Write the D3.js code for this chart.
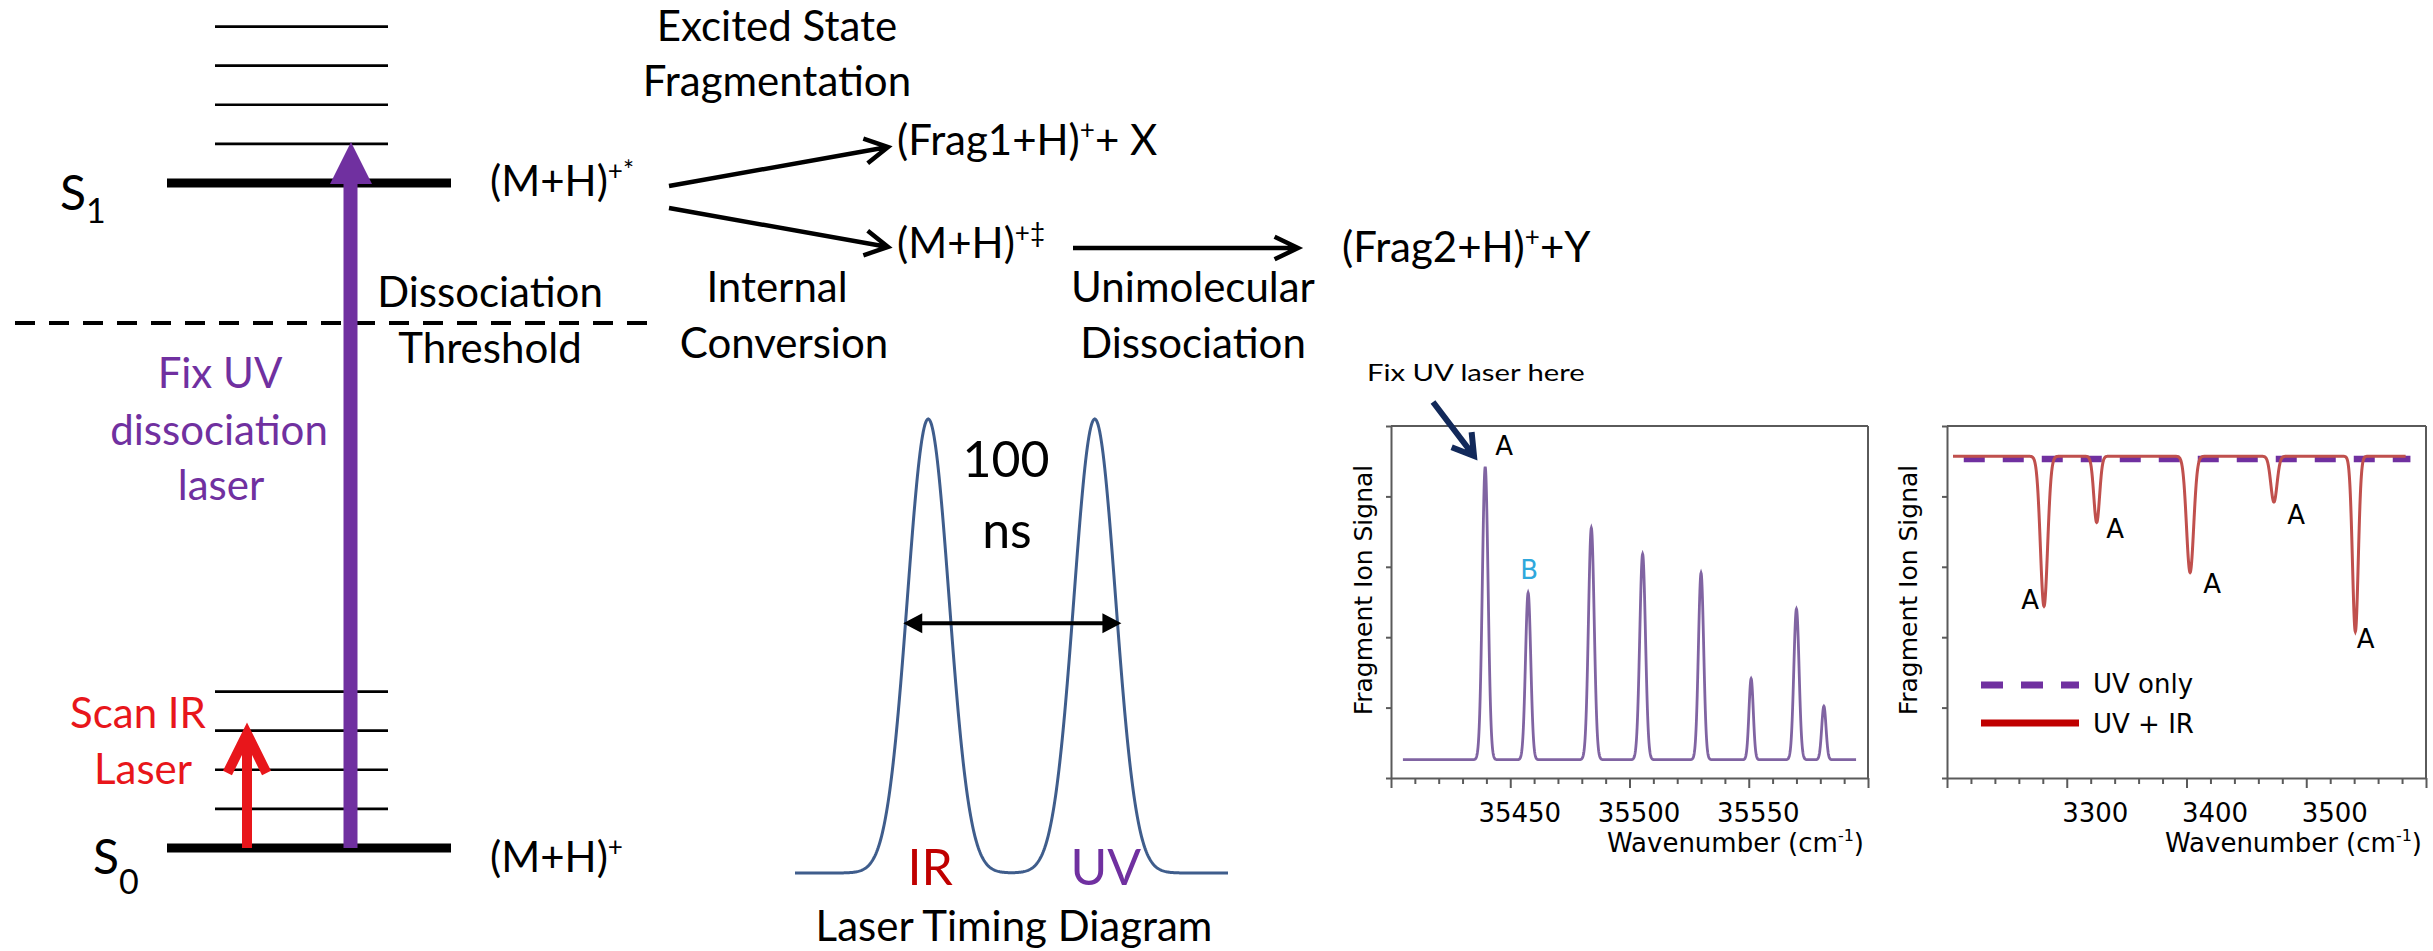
<!DOCTYPE html>
<html lang="en">
<head>
  <meta charset="UTF-8">
  <title>UV-UV / IR-UV double resonance scheme</title>
  <script src="https://d3js.org/d3.v7.min.js"></script>
  <style>
    body {
      margin: 0;
      background-color: #ffffff;
    }
    text {
      white-space: pre;
    }
  </style>
</head>
<body>

<div id="figure"></div>

<script>
  const width = 2433;
  const height = 951;

  const MAIN_FONT = "Lato, 'Open Sans', sans-serif";
  const PLOT_FONT = "'DejaVu Sans', Verdana, sans-serif";

  // ---- energy level diagram (energies in units of one vibrational quantum)
  const groundState = 0;
  const excitedState = 17;
  const thresholdEnergy = 13.42;
  const groundVibLevels = [1, 2, 3, 4];
  const excitedVibLevels = [18, 19, 20, 21];
  const irTargetLevel = 3;
  const uvTargetLevel = 18;

  // ---- laser timing (ns)
  const pulseNames = ["IR", "UV"];
  const pulseTimes = [0, 100];
  const pulseSigma = 12.5;
  const timeRange = [-80, 180];

  // ---- UV spectrum (cm-1, signal)
  const uvPeakPos = [35439.5, 35457.5, 35484, 35505.5, 35530, 35551, 35570, 35581.5];
  const uvPeakTop = [4.42, 2.63, 3.55, 3.18, 2.91, 1.41, 2.40, 1.02];
  const uvPeakWidth = [1.2, 1.1, 1.2, 1.2, 1.1, 0.9, 1.1, 0.9];
  const uvBaseline = 0.26;
  const uvRange = [35405, 35595];
  const uvTicks = [35450, 35500, 35550];

  // ---- IR-UV spectrum (cm-1, signal)
  const irDipPos = [3281, 3325, 3403, 3473, 3541];
  const irDipBottom = [2.44, 3.63, 2.92, 3.92, 2.08];
  const irDipWidth = [3.0, 2.4, 3.0, 2.6, 2.4];
  const irBaseline = 4.57;
  const irRange = [3205, 3583];
  const uvOnlyLevel = 4.53;
  const uvOnlyRange = [3214, 3587];
  const irTicks = [3300, 3400, 3500];
  const irLabelX = [3269.5, 3340.5, 3421.5, 3491.5, 3549.5];
  const irLabelY = [2.40, 3.41, 2.63, 3.61, 1.84];

  const svg = d3.select("#figure")
    .append("svg")
    .attr("width", width)
    .attr("height", height);

  svg.append("rect").attr("width", width).attr("height", height).attr("fill", "#fff");

  // text with optional sub/superscript pieces
  function addText(x, y, parts, o) {
    const t = svg.append("text")
      .attr("x", x).attr("y", y)
      .attr("font-family", o.font || MAIN_FONT)
      .attr("font-size", o.size)
      .attr("fill", o.color || "#000")
      .attr("text-anchor", o.anchor || "start");
    if (o.sx) t.attr("transform", `translate(${x},${y}) scale(${o.sx},1) translate(${-x},${-y})`);
    if (o.rotate) t.attr("transform", `rotate(${o.rotate},${x},${y})`);
    let shift = 0;
    parts.forEach(p => {
      const part = typeof p === "string" ? { t: p } : p;
      const off = part.dy || 0;
      t.append("tspan")
        .attr("dy", off - shift)
        .attr("font-size", part.size || o.size)
        .text(part.t);
      shift = off;
    });
    return t;
  }

  function openArrow(x1, y1, x2, y2, o) {
    const ang = Math.atan2(y2 - y1, x2 - x1);
    const len = o.head || 24, spread = o.spread || 0.5;
    const a1 = [x2 - len * Math.cos(ang - spread), y2 - len * Math.sin(ang - spread)];
    const a2 = [x2 - len * Math.cos(ang + spread), y2 - len * Math.sin(ang + spread)];
    svg.append("path")
      .attr("d", `M${x1},${y1}L${x2},${y2}M${a1}L${x2},${y2}L${a2}`)
      .attr("fill", "none")
      .attr("stroke", o.color || "#000")
      .attr("stroke-width", o.width || 4.5)
      .attr("stroke-linejoin", "miter")
      .attr("stroke-linecap", "butt");
  }

  // ================= energy diagram =================
  const E = d3.scaleLinear().domain([groundState, excitedState]).range([848, 183]);

  svg.selectAll(".vib")
    .data(groundVibLevels.concat(excitedVibLevels))
    .enter().append("line")
    .attr("x1", 215).attr("x2", 388)
    .attr("y1", d => E(d)).attr("y2", d => E(d))
    .attr("stroke", "#000").attr("stroke-width", 2.7);

  svg.selectAll(".state")
    .data([groundState, excitedState])
    .enter().append("line")
    .attr("x1", 167).attr("x2", 451)
    .attr("y1", d => E(d)).attr("y2", d => E(d))
    .attr("stroke", "#000").attr("stroke-width", 9);

  svg.append("line")
    .attr("x1", 15).attr("x2", 647)
    .attr("y1", E(thresholdEnergy)).attr("y2", E(thresholdEnergy))
    .attr("stroke", "#000").attr("stroke-width", 4)
    .attr("stroke-dasharray", "20,14");

  // UV pump arrow
  svg.append("line")
    .attr("x1", 350.5).attr("x2", 350.5)
    .attr("y1", E(groundState)).attr("y2", E(excitedState))
    .attr("stroke", "#7030A0").attr("stroke-width", 14);
  svg.append("path")
    .attr("d", `M330,${E(excitedState) + 1}L372,${E(excitedState) + 1}L351,${E(uvTargetLevel) - 2}Z`)
    .attr("fill", "#7030A0");

  // IR arrow
  openArrow(247, E(groundState), 247, E(irTargetLevel) + 3,
    { color: "#E8161B", width: 10, head: 44, spread: 0.46 });

  addText(60, 210, ["S", { t: "1", size: 34, dy: 13 }], { size: 48 });
  addText(93, 874, ["S", { t: "0", size: 34, dy: 20 }], { size: 48 });

  addText(490, 196, ["(M+H)", { t: "+*", size: 26, dy: -16 }], { size: 42 });
  addText(490, 872, ["(M+H)", { t: "+", size: 26, dy: -16 }], { size: 42 });

  addText(490, 307, ["Dissociation"], { size: 42, anchor: "middle" });
  addText(490, 363, ["Threshold"], { size: 42, anchor: "middle" });

  addText(220, 388, ["Fix UV"], { size: 42, anchor: "middle", color: "#7030A0" });
  addText(219, 445, ["dissociation"], { size: 42, anchor: "middle", color: "#7030A0" });
  addText(221, 500, ["laser"], { size: 42, anchor: "middle", color: "#7030A0" });

  addText(138, 728, ["Scan IR"], { size: 42, anchor: "middle", color: "#E8161B" });
  addText(143, 784, ["Laser"], { size: 42, anchor: "middle", color: "#E8161B" });

  // ================= fragmentation scheme =================
  addText(777, 41, ["Excited State"], { size: 42, anchor: "middle" });
  addText(777, 96, ["Fragmentation"], { size: 42, anchor: "middle" });

  openArrow(669, 186, 888, 147, { head: 26, spread: 0.5 });
  openArrow(669, 208, 888, 247, { head: 26, spread: 0.5 });
  openArrow(1073, 248, 1298, 248, { head: 26, spread: 0.45 });

  addText(897, 155, ["(Frag1+H)", { t: "+", size: 26, dy: -16 }, "+ X"], { size: 42 });
  addText(897, 258, ["(M+H)", { t: "+\u2021", size: 26, dy: -16 }], { size: 42 });
  addText(1342, 262, ["(Frag2+H)", { t: "+", size: 26, dy: -16 }, "+Y"], { size: 42 });

  addText(777, 302, ["Internal"], { size: 42, anchor: "middle" });
  addText(784, 358, ["Conversion"], { size: 42, anchor: "middle" });
  addText(1193, 302, ["Unimolecular"], { size: 42, anchor: "middle" });
  addText(1193, 358, ["Dissociation"], { size: 42, anchor: "middle" });

  // ================= laser timing diagram =================
  const tX = d3.scaleLinear().domain(timeRange).range([795, 1228]);
  const tY = d3.scaleLinear().domain([0, 1]).range([873, 419]);

  const pulseTrace = d3.range(timeRange[0], timeRange[1] + 0.01, 0.5).map(t => [
    t,
    d3.sum(pulseTimes, c => Math.exp(-((t - c) ** 2) / (2 * pulseSigma ** 2)))
  ]);

  svg.append("path")
    .datum(pulseTrace)
    .attr("fill", "none")
    .attr("stroke", "#3f5d8c")
    .attr("stroke-width", 3)
    .attr("d", d3.line().x(d => tX(d[0])).y(d => tY(d[1])));

  // 100 ns double arrow
  const arrY = tY(0.55);
  svg.append("line")
    .attr("x1", tX(-15) + 6).attr("x2", tX(116) - 6)
    .attr("y1", arrY).attr("y2", arrY)
    .attr("stroke", "#000").attr("stroke-width", 4);
  svg.append("path")
    .attr("d", `M${tX(-15)},${arrY}l19,-10v20Z M${tX(116)},${arrY}l-19,-10v20Z`)
    .attr("fill", "#000");

  addText(1006, 477, ["100"], { size: 50, anchor: "middle" });
  addText(1007, 548, ["ns"], { size: 50, anchor: "middle" });

  const pulseColors = ["#C00000", "#7030A0"];
  pulseNames.forEach((n, i) => {
    addText(tX(pulseTimes[i]) + [2, 11][i], 885, [n], { size: 50, anchor: "middle", color: pulseColors[i] });
  });
  addText(1014, 941, ["Laser Timing Diagram"], { size: 42, anchor: "middle" });

  // ================= spectra =================
  function gaussTrace(range, step, base, pos, top, sig) {
    return d3.range(range[0], range[1] + step / 2, step).map(v => [
      v,
      base + d3.sum(pos, (p, i) => (top[i] - base) * Math.exp(-((v - p) ** 2) / (2 * sig[i] ** 2)))
    ]);
  }

  const plotY = d3.scaleLinear().domain([0, 5]).range([778, 426]);

  function frame(x, ticks, step, major, labelDx) {
    const g = svg.append("g");
    const [x0, x1] = x.range();
    g.append("line").attr("x1", x0).attr("x2", x1).attr("y1", 426).attr("y2", 426)
      .attr("stroke", "#5a5a5a").attr("stroke-width", 2);
    g.append("line").attr("x1", x1).attr("x2", x1).attr("y1", 426).attr("y2", 778)
      .attr("stroke", "#5a5a5a").attr("stroke-width", 2);

    const yAx = g.append("g").attr("transform", `translate(${x0},0)`)
      .call(d3.axisLeft(plotY).tickValues([0, 1, 2, 3, 4, 5]).tickSize(5).tickSizeOuter(0).tickFormat(""));

    const [d0, d1] = x.domain();
    const xAx = g.append("g").attr("transform", "translate(0,778)")
      .call(d3.axisBottom(x)
        .tickValues(d3.range(d0, d1 + step / 2, step))
        .tickSize(6).tickSizeOuter(0)
        .tickFormat(d => ticks.includes(d) ? d : ""));
    xAx.selectAll(".tick line").attr("y2", d => (d - d0) % major === 0 ? 10 : 6);
    xAx.selectAll("text")
      .attr("y", 44).attr("dy", 0).attr("dx", labelDx)
      .attr("font-family", PLOT_FONT).attr("font-size", 26).attr("fill", "#000");

    [yAx, xAx].forEach(a => {
      a.selectAll("path, line").attr("stroke", "#5a5a5a").attr("stroke-width", 2);
    });

    addText(x1 - 4, 852, ["Wavenumber (cm", { t: "-1", size: 16, dy: -11 }, ")"],
      { size: 26, anchor: "end", font: PLOT_FONT });
  }

  // ---- panel 1 : UV spectrum
  const x1 = d3.scaleLinear().domain([35400, 35600]).range([1391, 1868]);
  frame(x1, uvTicks, 10, 50, 9);
  addText(1372, 590, ["Fragment Ion Signal"], { size: 25, anchor: "middle", font: PLOT_FONT, rotate: -90 });

  svg.append("path")
    .datum(gaussTrace(uvRange, 0.1, uvBaseline, uvPeakPos, uvPeakTop, uvPeakWidth))
    .attr("fill", "none")
    .attr("stroke", "#8064A2")
    .attr("stroke-width", 2.8)
    .attr("d", d3.line().x(d => x1(d[0])).y(d => plotY(d[1])));

  addText(x1(35447.4), plotY(4.59), ["A"], { size: 26, anchor: "middle", font: PLOT_FONT });
  addText(x1(35457.9), plotY(2.83), ["B"], { size: 26, anchor: "middle", font: PLOT_FONT, color: "#2FA8DC" });

  addText(1367, 381, ["Fix UV laser here"], { size: 24, sx: 1.22 });
  openArrow(1433, 402, 1474, 456, { color: "#12295a", width: 6, head: 24, spread: 0.55 });

  // ---- panel 2 : IR-UV spectrum
  const x2 = d3.scaleLinear().domain([3200, 3600]).range([1947, 2426]);
  frame(x2, irTicks, 20, 100, 28);
  addText(1917, 590, ["Fragment Ion Signal"], { size: 25, anchor: "middle", font: PLOT_FONT, rotate: -90 });

  svg.append("path")
    .datum(uvOnlyRange.map(v => [v, uvOnlyLevel]))
    .attr("fill", "none")
    .attr("stroke", "#7030A0")
    .attr("stroke-width", 6.5)
    .attr("stroke-dasharray", "21,18")
    .attr("d", d3.line().x(d => x2(d[0])).y(d => plotY(d[1])));

  svg.append("path")
    .datum(gaussTrace(irRange, 0.2, irBaseline, irDipPos, irDipBottom, irDipWidth))
    .attr("fill", "none")
    .attr("stroke", "#C0504D")
    .attr("stroke-width", 3)
    .attr("d", d3.line().x(d => x2(d[0])).y(d => plotY(d[1])));

  irLabelX.forEach((v, i) => {
    addText(x2(v), plotY(irLabelY[i]), ["A"], { size: 26, anchor: "middle", font: PLOT_FONT });
  });

  // legend
  svg.append("line").attr("x1", 1981).attr("x2", 2079).attr("y1", 685).attr("y2", 685)
    .attr("stroke", "#7030A0").attr("stroke-width", 7).attr("stroke-dasharray", "22,18");
  svg.append("line").attr("x1", 1981).attr("x2", 2079).attr("y1", 723).attr("y2", 723)
    .attr("stroke", "#C00000").attr("stroke-width", 7);
  addText(2093, 693, ["UV only"], { size: 26, font: PLOT_FONT });
  addText(2093, 733, ["UV + IR"], { size: 26, font: PLOT_FONT });
</script>

</body>
</html>
